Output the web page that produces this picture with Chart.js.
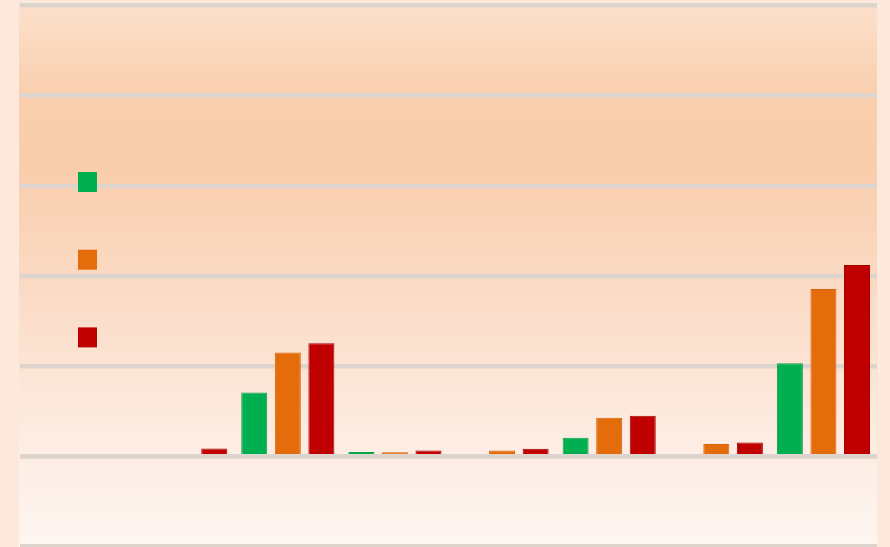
<!DOCTYPE html>
<html lang="en">
<head>
  <meta charset="UTF-8">
  <title>Grouped bars</title>
  <script src="https://cdn.jsdelivr.net/npm/chart.js"></script>
  <style>
    html, body { margin: 0; padding: 0; background: #fde9dc; }
    .wrap { width: 890px; height: 547px; position: relative; }
  </style>
</head>
<body>
  <div class="wrap"><canvas id="chart"></canvas></div>
  <script>
    // data (units = one gridline step)
    const categories = ['', '', '', '', '', '', '', ''];
    const seriesGreen  = [null, null, 0.707, 0.048, null, 0.205, null, 1.032];
    const seriesOrange = [null, null, 1.151, 0.044, 0.064, 0.427, 0.138, 1.857];
    const seriesRed    = [null, 0.086, 1.254, 0.064, 0.083, 0.449, 0.153, 2.123];
    const yTicks = [-1, 0, 1, 2, 3, 4, 5];

    // peach gradient behind the plot area
    const bgPlugin = {
      id: 'bg',
      beforeDraw(chart) {
        const { ctx, chartArea: a } = chart;
        const g = ctx.createLinearGradient(0, 0, 0, chart.height);
        g.addColorStop(0, '#fce1cd');
        g.addColorStop(0.17, '#f9cfae');
        g.addColorStop(0.3, '#f9cdab');
        g.addColorStop(0.55, '#fbdcc7');
        g.addColorStop(0.8, '#fdece2');
        g.addColorStop(1, '#fef6f1');
        ctx.save();
        ctx.fillStyle = g;
        ctx.fillRect(a.left - 1, a.top - 2, a.right - a.left + 1, chart.height - a.top + 2);
        ctx.restore();
      }
    };

    // legend squares only (no text in the original)
    const legendBoxes = {
      id: 'legendBoxes',
      afterDraw(chart) {
        const { ctx } = chart;
        chart.data.datasets.forEach((ds, i) => {
          ctx.save();
          ctx.fillStyle = ds.backgroundColor;
          ctx.fillRect(78, 172 + i * 77.7, 19, 20);
          ctx.restore();
        });
      }
    };

    // redraw the grid over the bar bases so bars sit on top of the zero line, like the original
    const gridOnTop = {
      id: 'gridOnTop',
      afterDatasetsDraw(chart) {
        const { ctx, chartArea: a, scales: { y } } = chart;
        const py = y.getPixelForValue(0);
        ctx.save();
        ctx.fillStyle = '#ddd4cd';
        ctx.fillRect(a.left, py - 0.5, a.right - a.left, 2.75);
        ctx.restore();
      }
    };

    new Chart(document.getElementById('chart'), {
      type: 'bar',
      data: {
        labels: categories,
        datasets: [
          { data: seriesGreen,  backgroundColor: '#00b050', borderColor: '#0a9e4a', borderWidth: 1 },
          { data: seriesOrange, backgroundColor: '#e46c0a', borderColor: '#d5640a', borderWidth: 1 },
          { data: seriesRed,    backgroundColor: '#c00000', borderColor: '#a80000', borderWidth: 1 }
        ]
      },
      options: {
        responsive: true,
        maintainAspectRatio: false,
        animation: false,
        layout: { padding: { left: 20, right: 13, top: 5.5, bottom: 0.5 } },
        datasets: { bar: { categoryPercentage: 0.94, barPercentage: 0.775 } },
        plugins: { legend: { display: false }, tooltip: { enabled: false } },
        scales: {
          x: { display: false },
          y: {
            min: yTicks[0],
            max: yTicks[yTicks.length - 1],
            afterBuildTicks: s => { s.ticks = yTicks.map(v => ({ value: v })); },
            grid: { color: '#ddd4cd', lineWidth: 4.5, drawTicks: false },
            border: { display: false },
            ticks: { display: false }
          }
        }
      },
      plugins: [bgPlugin, legendBoxes, gridOnTop]
    });
  </script>
</body>
</html>
